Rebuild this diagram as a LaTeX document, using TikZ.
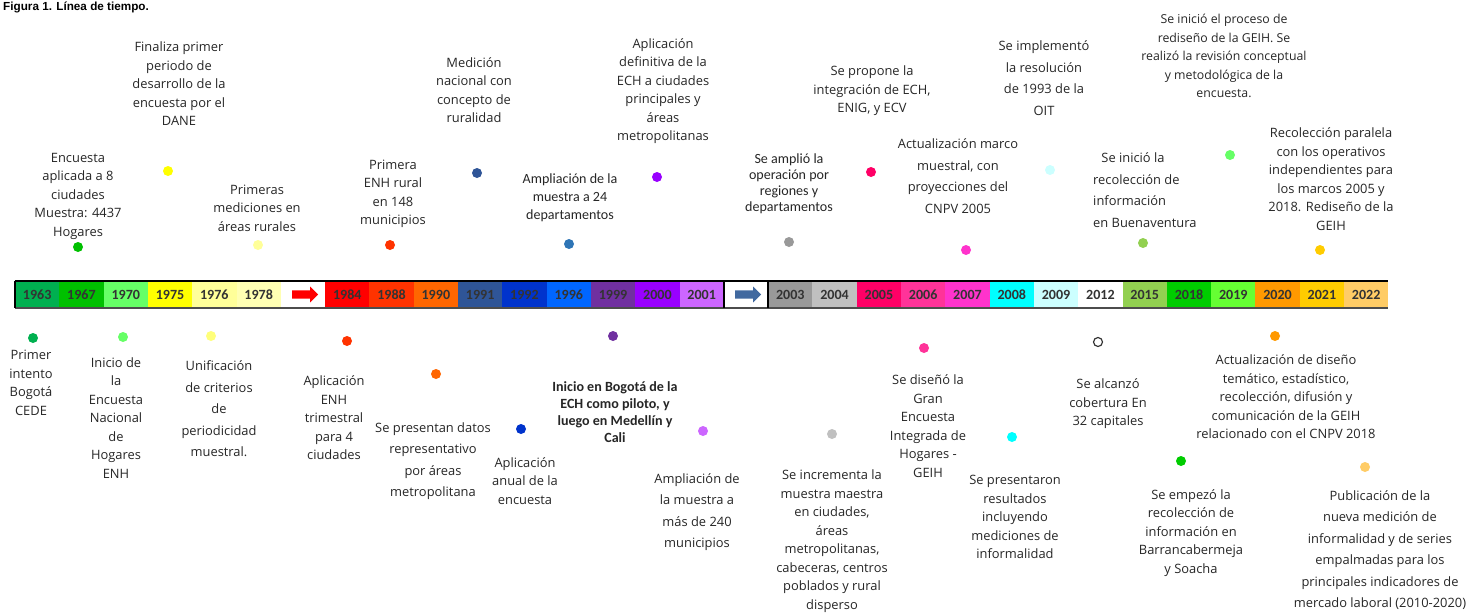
\documentclass[tikz,border=0pt]{standalone}
\usepackage{fontspec}
\setmainfont{Open Sans}
\newfontfamily\calib{Carlito}
\newfontfamily\headfont{Liberation Sans}
\usetikzlibrary{positioning, shapes.arrows}

\definecolor{y1963}{HTML}{00B050}
\definecolor{y1967}{HTML}{00C000}
\definecolor{y1970}{HTML}{66FF66}
\definecolor{y1975}{HTML}{FFFF00}
\definecolor{y1976}{HTML}{FFFF99}
\definecolor{y1978}{HTML}{FFFFB3}
\definecolor{y1984}{HTML}{FF0000}
\definecolor{y1988}{HTML}{FF3300}
\definecolor{y1990}{HTML}{FF6600}
\definecolor{y1991}{HTML}{2F5597}
\definecolor{y1992}{HTML}{0033CC}
\definecolor{y1996}{HTML}{0066FF}
\definecolor{y1999}{HTML}{7030A0}
\definecolor{y2000}{HTML}{9900FF}
\definecolor{y2001}{HTML}{CC66FF}
\definecolor{y2003}{HTML}{999999}
\definecolor{y2004}{HTML}{C0C0C0}
\definecolor{y2005}{HTML}{FF0066}
\definecolor{y2006}{HTML}{FF3399}
\definecolor{y2007}{HTML}{FF33CC}
\definecolor{y2008}{HTML}{00FFFF}
\definecolor{y2009}{HTML}{CCFFFF}
\definecolor{y2015}{HTML}{92D050}
\definecolor{y2018}{HTML}{00CC00}
\definecolor{y2019}{HTML}{66FF33}
\definecolor{y2020}{HTML}{FF9900}
\definecolor{y2021}{HTML}{FFCC00}
\definecolor{y2022}{HTML}{FFCC66}
\definecolor{punto1996}{HTML}{2E75B6}
\definecolor{flechaazul}{HTML}{41699F}

\begin{document}
\begin{tikzpicture}[
        x=0.03cm, y=-0.03cm,
        node distance=0pt,
        year/.style={rectangle, minimum width=1.329cm, minimum height=0.81cm, inner sep=0pt,
                     outer sep=0pt, text=black!80, font=\calib\bfseries\fontsize{12}{14}\selectfont},
        dot/.style={circle, minimum size=0.3cm, inner sep=0pt},
        evt/.style={align=center, inner sep=0pt, text=black!85, font=\fontsize{11}{15.8}\selectfont},
        evtw/.style={evt, font=\fontsize{11}{18.4}\selectfont},
        evts/.style={align=center, inner sep=0pt, text=black!85, font=\calib\fontsize{12}{14.6}\selectfont},
        evtb/.style={evts, font=\calib\bfseries\fontsize{12}{14.5}\selectfont},
        arrowblock/.style={single arrow, minimum height=0.78cm, inner sep=3.4pt,
                           single arrow head extend=0.11cm}
    ]
        \useasboundingbox (0,0) rectangle (1477,612);
        \node[anchor=north west, inner sep=0pt, font=\headfont\bfseries\fontsize{10}{12}\selectfont] (titulo) at (3,2) {Figura 1. Línea de tiempo.};

        \node[year, fill=y1963] (c1963) at (37.15,294.5) {1963};
        \node[year, fill=y1967, right=of c1963] (c1967) {1967};
        \node[year, fill=y1970, right=of c1967] (c1970) {1970};
        \node[year, fill=y1975, right=of c1970] (c1975) {1975};
        \node[year, fill=y1976, right=of c1975] (c1976) {1976};
        \node[year, fill=y1978, right=of c1976] (c1978) {1978};
        \node[year, fill=white, right=of c1978] (gap1) {};
        \node[year, fill=y1984, right=of gap1] (c1984) {1984};
        \node[year, fill=y1988, right=of c1984] (c1988) {1988};
        \node[year, fill=y1990, right=of c1988] (c1990) {1990};
        \node[year, fill=y1991, right=of c1990] (c1991) {1991};
        \node[year, fill=y1992, right=of c1991] (c1992) {1992};
        \node[year, fill=y1996, right=of c1992] (c1996) {1996};
        \node[year, fill=y1999, right=of c1996] (c1999) {1999};
        \node[year, fill=y2000, right=of c1999] (c2000) {2000};
        \node[year, fill=y2001, right=of c2000] (c2001) {2001};
        \node[year, fill=white, right=of c2001] (gap2) {};
        \node[year, fill=y2003, right=of gap2] (c2003) {2003};
        \node[year, fill=y2004, right=of c2003] (c2004) {2004};
        \node[year, fill=y2005, right=of c2004] (c2005) {2005};
        \node[year, fill=y2006, right=of c2005] (c2006) {2006};
        \node[year, fill=y2007, right=of c2006] (c2007) {2007};
        \node[year, fill=y2008, right=of c2007] (c2008) {2008};
        \node[year, fill=y2009, right=of c2008] (c2009) {2009};
        \node[year, fill=white, right=of c2009] (c2012) {2012};
        \node[year, fill=y2015, right=of c2012] (c2015) {2015};
        \node[year, fill=y2018, right=of c2015] (c2018) {2018};
        \node[year, fill=y2019, right=of c2018] (c2019) {2019};
        \node[year, fill=y2020, right=of c2019] (c2020) {2020};
        \node[year, fill=y2021, right=of c2020] (c2021) {2021};
        \node[year, fill=y2022, right=of c2021] (c2022) {2022};

        \node[arrowblock, fill=red] (flecha1) at (gap1) {};
        \node[arrowblock, fill=flechaazul] (flecha2) at (gap2) {};

        \draw[line width=2.2pt] (c1963.north west) -- (c2022.north east);
        \draw[line width=1.2pt, black!70] (c1963.south west) -- (c2022.south east);
        \draw[line width=1.5pt] (c1963.north west) -- (c1963.south west);
        \draw[line width=1.5pt] (gap2.north west) -- (gap2.south west);
        \draw[line width=1.5pt] (gap2.north east) -- (gap2.south east);

        \node[dot, fill=y1967] (p1967) at (78,247) {};
        \node[dot, fill=y1975] (p1975) at (168,171) {};
        \node[dot, fill=y1976] (p1978) at (258,245) {};
        \node[dot, fill=y1988] (p1988) at (390,245) {};
        \node[dot, fill=y1991] (p1991) at (477,173) {};
        \node[dot, fill=punto1996] (p1996) at (569,244) {};
        \node[dot, fill=y2000] (p2000) at (657,177) {};
        \node[dot, fill=y2003] (p2003) at (789,242) {};
        \node[dot, fill=y2005] (p2005) at (871,172) {};
        \node[dot, fill=y2007] (p2007) at (966,250) {};
        \node[dot, fill=y2009] (p2009) at (1050,170) {};
        \node[dot, fill=y2015] (p2015) at (1143,243) {};
        \node[dot, fill=y1970] (p2019) at (1230,155) {};
        \node[dot, fill=y2021] (p2021) at (1320,250) {};

        \node[dot, fill=y1963] (p1963) at (33,338) {};
        \node[dot, fill=y1970] (p1970) at (123,337) {};
        \node[dot, fill=y1976!80!y1975] (p1976) at (211,336) {};
        \node[dot, fill=y1988] (p1984) at (347,341) {};
        \node[dot, fill=y1990] (p1990) at (436,374) {};
        \node[dot, fill=y1992] (p1992) at (521,429) {};
        \node[dot, fill=y1999] (p1999) at (613,336) {};
        \node[dot, fill=y2001] (p2001) at (703,431) {};
        \node[dot, fill=y2004] (p2004) at (832,434) {};
        \node[dot, fill=y2006] (p2006) at (924,348) {};
        \node[dot, fill=y2008] (p2008) at (1012,437) {};
        \node[dot, draw=black!80, fill=white, line width=1pt, minimum size=0.27cm] (p2012) at (1098,342) {};
        \node[dot, fill=y2018] (p2018) at (1181,461) {};
        \node[dot, fill=y2020] (p2020) at (1275,336) {};
        \node[dot, fill=y2022] (p2022) at (1365,467) {};

        \node[evt] (t1967) at (78,196) {Encuesta\\aplicada a 8\\ciudades\\Muestra: 4437\\Hogares};
        \node[evt] (t1975) at (179,84) {Finaliza primer\\periodo de\\desarrollo de la\\encuesta por el\\DANE};
        \node[evt] (t1978) at (257,208) {Primeras\\mediciones en\\áreas rurales};
        \node[evt] (t1988) at (393,194) {Primera\\ENH rural\\en 148\\municipios};
        \node[evt] (t1991) at (474,90) {Medición\\nacional con\\concepto de\\ruralidad};
        \node[evts, font=\calib\fontsize{12}{15.4}\selectfont] (t1996) at (570,198) {Ampliación de la\\muestra a 24\\departamentos};
        \node[evt] (t2000) at (663,91) {Aplicación\\definitiva de la\\ECH a ciudades\\principales y\\áreas\\metropolitanas};
        \node[evts, font=\calib\fontsize{12}{13.7}\selectfont] (t2003) at (789,184) {Se amplió la\\operación por\\regiones y\\departamentos};
        \node[evt] (t2005) at (872,91) {Se propone la\\integración de ECH,\\ENIG, y ECV};
        \node[evtw] (t2007) at (958,176) {Actualización marco\\muestral, con\\proyecciones del\\CNPV 2005};
        \node[evtw] (t2009) at (1044,78) {Se implementó\\la resolución\\de 1993 de la\\OIT};
        \node[evtw, align=left, anchor=west] (t2015) at (1093,190) {\hspace{7pt}Se inició la\\recolección de\\información\\en Buenaventura};
        \node[evt, font=\fontsize{10.5}{15.8}\selectfont] (t2019) at (1224,56) {Se inició el proceso de\\rediseño de la GEIH. Se\\realizó la revisión conceptual\\y metodológica de la\\encuesta.};
        \node[evt] (t2021) at (1331,179) {Recolección paralela\\con los operativos\\independientes para\\los marcos 2005 y\\2018. Rediseño de la\\GEIH};

        \node[evt] (t1963) at (31,383) {Primer\\intento\\Bogotá\\CEDE};
        \node[evt] (t1970) at (116,418) {Inicio de\\la\\Encuesta\\Nacional\\de\\Hogares\\ENH};
        \node[evtw] (t1976) at (219,409) {Unificación\\de criterios\\de\\periodicidad\\muestral.};
        \node[evt] (t1984) at (334,418) {Aplicación\\ENH\\trimestral\\para 4\\ciudades};
        \node[evtw] (t1990) at (433,461) {Se presentan datos\\representativo\\por áreas\\metropolitana};
        \node[evt] (t1992) at (525,481) {Aplicación\\anual de la\\encuesta};
        \node[evtb] (t1999) at (615,412) {Inicio en Bogotá de la\\ECH como piloto, y\\luego en Medellín y\\Cali};
        \node[evtw] (t2001) at (697,512) {Ampliación de\\la muestra a\\más de 240\\municipios};
        \node[evt] (t2004) at (832,541) {Se incrementa la\\muestra maestra\\en ciudades,\\áreas\\metropolitanas,\\cabeceras, centros\\poblados y rural\\disperso};
        \node[evt] (t2006) at (928,426) {Se diseñó la\\Gran\\Encuesta\\Integrada de\\Hogares -\\GEIH};
        \node[evt] (t2008) at (1015,517) {Se presentaron\\resultados\\incluyendo\\mediciones de\\informalidad};
        \node[evt] (t2012) at (1108,404) {Se alcanzó\\cobertura En\\32 capitales};
        \node[evt] (t2018) at (1191,533) {Se empezó la\\recolección de\\información en\\Barrancabermeja\\y Soacha};
        \node[evt] (t2020) at (1286,397) {Actualización de diseño\\temático, estadístico,\\recolección, difusión y\\comunicación de la GEIH\\relacionado con el CNPV 2018};
        \node[evtw] (t2022) at (1380,550) {Publicación de la\\nueva medición de\\informalidad y de series\\empalmadas para los\\principales indicadores de\\mercado laboral (2010-2020)};
    \end{tikzpicture}
\end{document}
